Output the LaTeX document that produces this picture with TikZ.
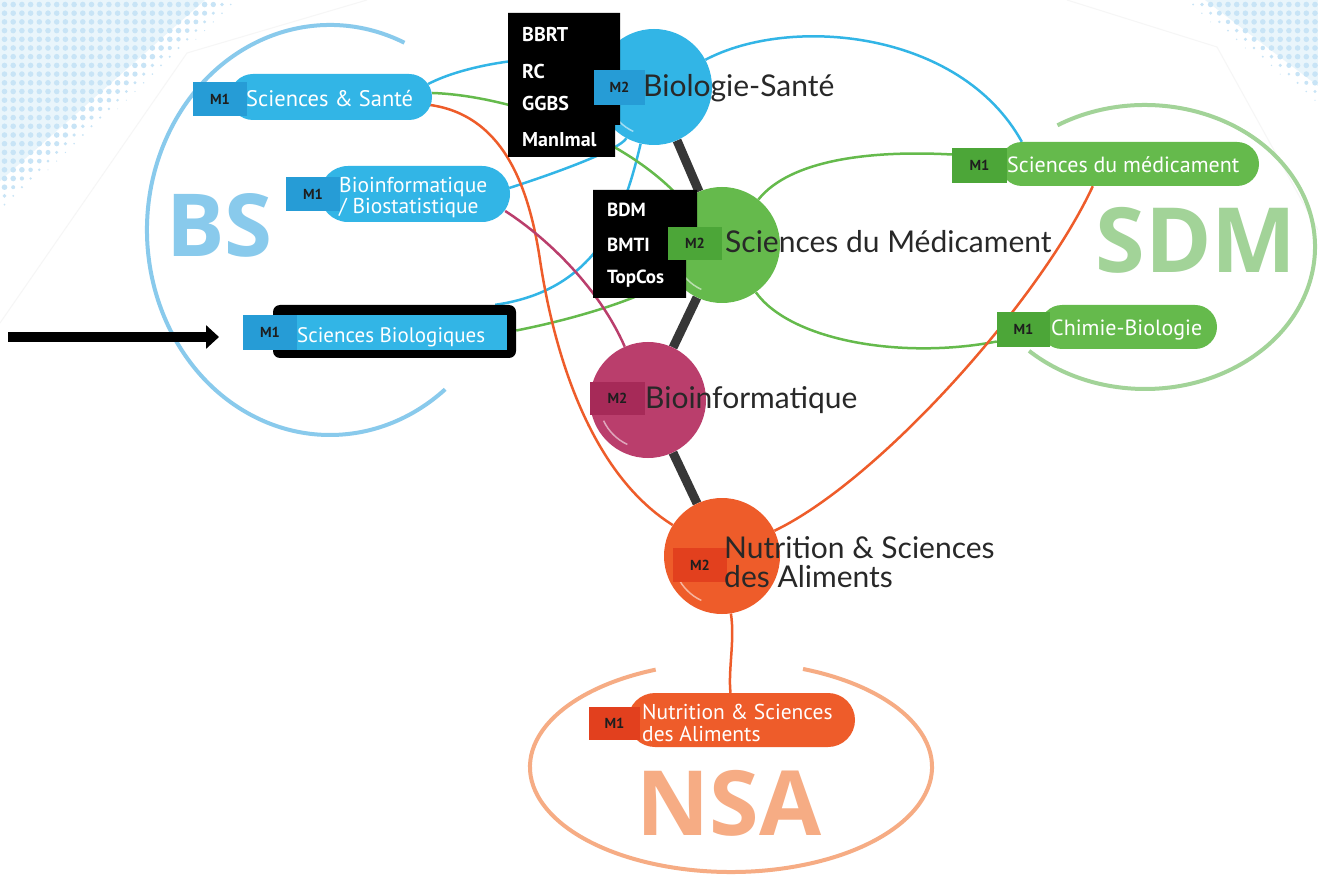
\documentclass[tikz,border=0pt]{standalone}
\usepackage{fontspec}
\setmainfont{PT Sans}
\newfontfamily\lato{Lato}
\newfontfamily\osans{Open Sans}
\usetikzlibrary{arrows.meta,calc}
\definecolor{cblue}{RGB}{50,181,230}
\definecolor{tblue}{RGB}{38,156,214}
\definecolor{cgreen}{RGB}{101,186,76}
\definecolor{tgreen}{RGB}{76,166,56}
\definecolor{cmag}{RGB}{186,62,108}
\definecolor{tmag}{RGB}{166,42,88}
\definecolor{corange}{RGB}{238,92,42}
\definecolor{torange}{RGB}{226,64,30}
\definecolor{lblue}{RGB}{137,202,236}
\definecolor{lgreen}{RGB}{162,211,152}
\definecolor{lorange}{RGB}{246,172,132}
\definecolor{dotc}{RGB}{200,228,246}
\definecolor{tint}{RGB}{233,245,251}
\definecolor{txtc}{RGB}{40,40,40}
\definecolor{tagtxt}{RGB}{30,30,30}
\definecolor{linkgray}{RGB}{55,55,55}
\definecolor{panel}{RGB}{246,246,246}
\pgfdeclarelayer{back}
\pgfdeclarelayer{mid}
\pgfsetlayers{back,mid,main}
\begin{document}
\begin{tikzpicture}[x=1pt,y=-1pt,
  circ/.style={circle,inner sep=0pt,minimum size=116pt},
  tagbox/.style={rectangle,inner sep=0pt,font=\fontsize{14.5}{14.5}\selectfont\bfseries,text=tagtxt},
  pill/.style={rectangle,inner sep=0pt},
  pilltext/.style={font=\fontsize{22}{22}\selectfont,text=white,inner sep=0pt,anchor=base west},
  bigtext/.style={text=#1,inner sep=0pt,anchor=base},
  mtwo/.style={font=\lato\fontsize{30}{30}\selectfont,text=txtc,inner sep=0pt,anchor=base west},
  boxtext/.style={font=\fontsize{20}{20}\selectfont\bfseries,text=white,inner sep=0pt,anchor=base west},
  curve/.style={line width=2.5pt},
  ring/.style={line width=4pt},
  link/.style={line width=9pt,draw=linkgray}
]
\useasboundingbox (0,0) rectangle (1318,877);
\begin{pgfonlayer}{back}
\fill[white] (0,0) rectangle (1318,877);
\draw[panel,line width=1pt] (0,323) -- (187,53) -- (367,0);
\draw[panel,line width=1pt] (1067,0) -- (1217,47) -- (1318,230);
\fill[tint] (0,0) -- (205,0) -- (0,181) -- cycle;
\fill[tint] (1205,0) -- (1318,0) -- (1318,86) -- cycle;
\foreach \i in {0,...,28}{
  \foreach \j in {0,...,26}{
    \pgfmathsetmacro\xx{4.5+\i*8.7}
    \pgfmathsetmacro\yy{4.5+\j*8.7}
    \pgfmathsetmacro\dd{245-\xx-\yy*1.13}
    \pgfmathsetmacro\rr{min(2.8,\dd/10)}
    \ifdim\rr pt>0.4pt \fill[dotc] (\xx,\yy) circle[radius=\rr pt];\fi
  }}
\foreach \i in {0,...,16}{
  \foreach \j in {0,...,13}{
    \pgfmathsetmacro\xx{1315-\i*8.7}
    \pgfmathsetmacro\yy{4.5+\j*8.7}
    \pgfmathsetmacro\dd{(\xx-1177)-\yy*1.32}
    \pgfmathsetmacro\rr{min(2.8,\dd/10)}
    \ifdim\rr pt>0.4pt \fill[dotc] (\xx,\yy) circle[radius=\rr pt];\fi
  }}
\draw[ring,lblue] (330,230) ++(66:183pt and 205pt) arc[start angle=66,end angle=309,x radius=183pt,y radius=205pt];
\draw[ring,lgreen] (1145,247) ++(121:170pt and 142pt) arc[start angle=121,end angle=-133,x radius=170pt,y radius=142pt];
\draw[ring,lorange] (731,767) ++(112:201pt and 105pt) arc[start angle=112,end angle=429,x radius=201pt,y radius=105pt];
\node[bigtext=lblue,font=\osans\bfseries\fontsize{87}{87}\selectfont] (bsl) at (219.5,257) {BS};
\node[bigtext=lgreen,font=\osans\bfseries\fontsize{90}{90}\selectfont] (sdml) at (1196,273) {SDM};
\node[bigtext=lorange,font=\osans\bfseries\fontsize{90}{90}\selectfont] (nsal) at (729,835) {NSA};
\end{pgfonlayer}

% circles
\node[circ,fill=cblue] (cbs) at (654,87) {};
\node[circ,fill=cgreen] (csm) at (722,245) {};
\node[circ,fill=cmag] (cbi) at (648,400) {};
\node[circ,fill=corange] (cns) at (722,556) {};
\foreach \c in {cbs,csm,cbi,cns}{
  \draw[white,opacity=0.55,line width=1.5pt] (\c.center) ++(205:49pt) arc[start angle=205,end angle=245,radius=49pt];
}

% black boxes
\fill[black] (508,13) -- (620,13) -- (620,125) -- (615,125) -- (615,157) -- (508,157) -- cycle;
\fill[black] (593,190) -- (697,190) -- (697,260) -- (686,260) -- (686,298) -- (593,298) -- cycle;
\node[boxtext] (bb1) at (522,42) {BBRT};
\node[boxtext] (bb2) at (522,78.5) {RC};
\node[boxtext] (bb3) at (522,110.5) {GGBS};
\node[boxtext] (bb4) at (522,147) {ManImal};
\node[boxtext,font=\fontsize{19}{19}\selectfont\bfseries] (bc1) at (607,217) {BDM};
\node[boxtext,font=\fontsize{19}{19}\selectfont\bfseries] (bc2) at (607,252) {BMTI};
\node[boxtext,font=\fontsize{19}{19}\selectfont\bfseries] (bc3) at (607,283.5) {TopCos};

% M2 tags and labels
\node[tagbox,fill=tblue,minimum width=51pt,minimum height=35pt] (g1) at (619.5,87.5) {M2};
\node[tagbox,fill=tgreen,minimum width=54pt,minimum height=33pt] (g2) at (695,243.5) {M2};
\node[tagbox,fill=tmag,minimum width=55pt,minimum height=33pt] (g3) at (617.5,398.5) {M2};
\node[tagbox,fill=torange,minimum width=54pt,minimum height=34pt] (g4) at (700,565) {M2};
\node[mtwo] (l1) at (643,97) {Biologie-Santé};
\node[mtwo] (l2) at (725,253) {Sciences du Médicament};
\node[mtwo] (l3) at (645,409) {Bioinformatique};
\node[mtwo] (l4a) at (724,558) {Nutrition \& Sciences};
\node[mtwo] (l4b) at (724,587) {des Aliments};

% M1 pills
\node[pill,fill=cblue,rounded corners=23pt,minimum width=202pt,minimum height=46pt] (p1) at (331,97) {};
\node[tagbox,fill=tblue,minimum width=54pt,minimum height=34pt] (m1a) at (220,99) {M1};
\node[pilltext,font=\fontsize{22.5}{22.5}\selectfont] (s1) at (246,106.5) {Sciences \& Santé};

\node[pill,fill=cblue,rounded corners=28pt,minimum width=190pt,minimum height=56pt] (p2) at (415,194) {};
\node[tagbox,fill=tblue,minimum width=54pt,minimum height=34pt] (m1b) at (313,194) {M1};
\node[pilltext,font=\fontsize{21.5}{21.5}\selectfont] (s2a) at (339,193) {Bioinformatique};
\node[pilltext,font=\fontsize{21.5}{21.5}\selectfont] (s2b) at (339,213.5) {/ Biostatistique};

\node[rectangle,fill=black,rounded corners=7pt,minimum width=243pt,minimum height=53pt,inner sep=0pt] (f3) at (394.5,331.5) {};
\node[pill,fill=cblue,minimum width=264pt,minimum height=35pt] (p3) at (375,332.5) {};
\node[tagbox,fill=tblue,minimum width=54pt,minimum height=35pt] (m1c) at (270,332.5) {M1};
\node[pilltext,font=\fontsize{21}{21}\selectfont] (s3) at (297,343) {Sciences Biologiques};

\node[pill,fill=cgreen,rounded corners=22pt,minimum width=259pt,minimum height=44pt] (p4) at (1129.5,164) {};
\node[tagbox,fill=tgreen,minimum width=55pt,minimum height=35pt] (m1d) at (979.5,165.5) {M1};
\node[pilltext] (s4) at (1007,173) {Sciences du médicament};

\node[pill,fill=cgreen,rounded corners=22pt,minimum width=177pt,minimum height=44pt] (p5) at (1128.5,327) {};
\node[tagbox,fill=tgreen,minimum width=53pt,minimum height=35pt] (m1e) at (1023.5,329.5) {M1};
\node[pilltext] (s5) at (1051,336) {Chimie-Biologie};

\node[pill,fill=corange,rounded corners=27pt,minimum width=227pt,minimum height=54pt] (p6) at (741.5,720) {};
\node[tagbox,fill=torange,minimum width=51pt,minimum height=33pt] (m1f) at (614.5,723.5) {M1};
\node[pilltext,font=\fontsize{21.5}{21.5}\selectfont] (s6a) at (642,719) {Nutrition \& Sciences};
\node[pilltext,font=\fontsize{21.5}{21.5}\selectfont] (s6b) at (642,741) {des Aliments};

% arrow
\coordinate (aS) at (8,337);
\coordinate (aE) at (219,337);
\draw[line width=10pt,-{Triangle[length=13pt,width=23pt]}] (aS) -- (aE);

% connectors
\begin{pgfonlayer}{mid}
\draw[link] (cbs) -- (csm);
\draw[link] (csm) -- (cbi);
\draw[link] (cbi) -- (cns);
\draw[curve,cblue] ($(p1.east)+(-4,-13)$) .. controls (470,62) and (560,50) .. (cbs);
\draw[curve,cblue] ($(p2.east)+(-1,-6)$) .. controls (550,175) and (620,150) .. (cbs);
\draw[curve,cblue] ($(f3.north east)+(-21,0)$) .. controls (600,290) and (625,210) .. (cbs);
\draw[curve,cblue] (cbs) .. controls (790,15) and (960,30) .. ($(p4.north west)+(22,0)$);
\draw[curve,cgreen] ($(p1.east)+(0,-4)$) .. controls (500,95) and (620,130) .. (csm);
\draw[curve,cgreen] ($(f3.east)+(0,-1)$) .. controls (570,320) and (640,300) .. (csm);
\draw[curve,cgreen] (csm) .. controls (790,160) and (870,150) .. ($(m1d.west)+(0,-11)$);
\draw[curve,cgreen] (csm) .. controls (790,340) and (900,360) .. ($(m1e.west)+(0,12)$);
\draw[curve,corange] ($(p1.east)+(-2,8)$) .. controls (500,115) and (528,180) .. (540,260) .. controls (552,340) and (585,470) .. (cns);
\draw[curve,corange] (cns) .. controls (880,480) and (1040,300) .. ($(p4.south west)+(93,0)$);
\draw[curve,corange] (cns) .. controls (735,640) and (728,670) .. ($(p6.north)+(-11,0)$);
\draw[curve,cmag] ($(p2.east)+(-5,17)$) .. controls (550,240) and (600,290) .. (cbi);
\end{pgfonlayer}
\end{tikzpicture}
\end{document}
